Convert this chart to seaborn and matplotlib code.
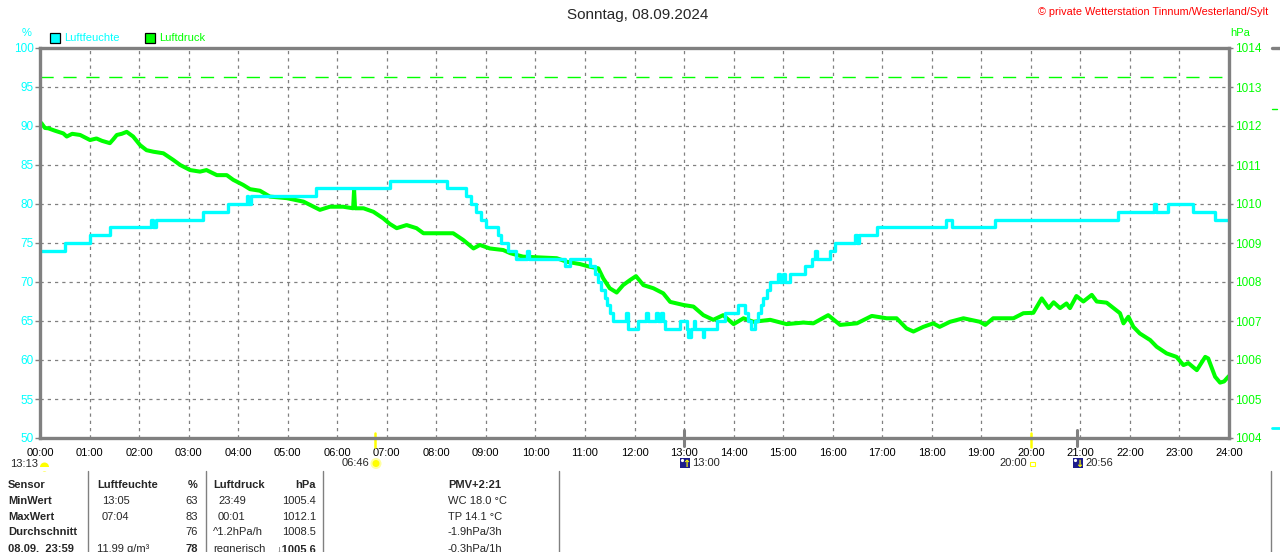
import pandas as pd
import seaborn as sns
import matplotlib.pyplot as plt
import matplotlib.transforms as mtransforms
from matplotlib.patches import Rectangle, Circle
from matplotlib.lines import Line2D

# --- data ---
hum_hours = [0.00, 0.50, 1.00, 1.41, 2.25, 2.28, 2.35, 3.30, 3.80, 4.18, 4.20, 4.25,
             5.58, 7.06, 8.21, 8.60, 8.70, 8.80, 8.90, 9.00, 9.25, 9.30, 9.45, 9.60,
             9.83, 9.88, 10.60, 10.70, 11.10, 11.20, 11.27, 11.33, 11.40, 11.45, 11.50,
             11.57, 11.83, 11.86, 12.07, 12.24, 12.27, 12.44, 12.47, 12.54, 12.57, 12.62,
             12.92, 13.05, 13.08, 13.14, 13.20, 13.23, 13.38, 13.41, 13.66, 13.82, 14.09,
             14.23, 14.30, 14.36, 14.43, 14.50, 14.55, 14.60, 14.68, 14.74, 14.90, 14.93,
             15.00, 15.03, 15.14, 15.44, 15.58, 15.64, 15.68, 15.94, 16.05, 16.45, 16.49,
             16.53, 16.90, 18.28, 18.40, 19.28, 21.76, 22.48, 22.52, 22.77, 23.27, 23.72,
             24.00]
hum_values = [74, 75, 76, 77, 78, 77, 78, 79, 80, 81, 80, 81,
              82, 83, 82, 81, 80, 79, 78, 77, 76, 75, 74, 73,
              74, 73, 72, 73, 72, 71, 70, 69, 68, 67, 66,
              65, 66, 64, 65, 66, 65, 66, 65, 66, 65, 64,
              65, 64, 63, 64, 65, 64, 63, 64, 65, 66, 67,
              66, 65, 64, 65, 66, 67, 68, 69, 70, 71, 70,
              71, 70, 71, 72, 73, 74, 73, 74, 75, 76, 75,
              76, 77, 78, 77, 78, 79, 80, 79, 80, 79, 78,
              78]

press_hours = [0.00, 0.03, 0.10, 0.17, 0.30, 0.47, 0.54, 0.65, 0.81, 0.92, 1.01, 1.14,
               1.25, 1.41, 1.48, 1.55, 1.65, 1.75, 1.88, 2.02, 2.15, 2.29, 2.49, 2.69,
               2.83, 3.03, 3.23, 3.36, 3.57, 3.77, 3.90, 4.10, 4.24, 4.44, 4.64, 4.98,
               5.32, 5.65, 5.85, 6.12, 6.32, 6.34, 6.36, 6.53, 6.73, 6.93, 7.06, 7.20,
               7.40, 7.60, 7.74, 8.07, 8.34, 8.54, 8.75, 8.88, 9.08, 9.35, 9.49, 9.75,
               10.09, 10.43, 10.63, 10.90, 11.10, 11.27, 11.37, 11.50, 11.64, 11.77, 11.91,
               12.03, 12.18, 12.38, 12.58, 12.72, 12.99, 13.19, 13.39, 13.59, 13.79, 14.00,
               14.20, 14.40, 14.74, 15.07, 15.41, 15.61, 15.91, 16.15, 16.49, 16.79, 17.09,
               17.29, 17.49, 17.63, 17.83, 18.03, 18.16, 18.37, 18.64, 18.97, 19.08, 19.24,
               19.51, 19.65, 19.85, 20.05, 20.22, 20.36, 20.46, 20.59, 20.72, 20.79, 20.92,
               21.06, 21.23, 21.33, 21.53, 21.67, 21.80, 21.87, 21.97, 22.07, 22.20, 22.41,
               22.54, 22.74, 22.94, 23.08, 23.18, 23.35, 23.52, 23.58, 23.72, 23.82, 23.90,
               24.00]
press_values = [1012.10, 1012.07, 1011.95, 1011.94, 1011.88, 1011.81, 1011.73, 1011.80,
                1011.77, 1011.70, 1011.64, 1011.68, 1011.62, 1011.56, 1011.66, 1011.77,
                1011.80, 1011.85, 1011.73, 1011.51, 1011.38, 1011.34, 1011.30, 1011.13,
                1011.00, 1010.87, 1010.83, 1010.87, 1010.74, 1010.74, 1010.62, 1010.49,
                1010.38, 1010.34, 1010.19, 1010.15, 1010.06, 1009.85, 1009.93, 1009.93,
                1009.89, 1010.36, 1009.89, 1009.89, 1009.80, 1009.63, 1009.49, 1009.38,
                1009.46, 1009.38, 1009.25, 1009.25, 1009.25, 1009.08, 1008.86, 1008.95,
                1008.86, 1008.82, 1008.74, 1008.65, 1008.63, 1008.61, 1008.52, 1008.46,
                1008.39, 1008.35, 1008.09, 1007.84, 1007.73, 1007.92, 1008.05, 1008.15,
                1007.92, 1007.84, 1007.71, 1007.49, 1007.41, 1007.37, 1007.15, 1007.03,
                1007.15, 1006.92, 1007.07, 1006.98, 1007.03, 1006.92, 1006.96, 1006.94,
                1007.15, 1006.90, 1006.94, 1007.13, 1007.07, 1007.07, 1006.81, 1006.73,
                1006.85, 1006.94, 1006.85, 1006.98, 1007.07, 1006.98, 1006.90, 1007.07,
                1007.07, 1007.07, 1007.20, 1007.21, 1007.58, 1007.33, 1007.48, 1007.33,
                1007.45, 1007.33, 1007.64, 1007.50, 1007.67, 1007.50, 1007.47, 1007.33,
                1007.20, 1006.94, 1007.11, 1006.85, 1006.68, 1006.51, 1006.34, 1006.17,
                1006.08, 1005.87, 1005.92, 1005.74, 1006.08, 1006.04, 1005.57, 1005.42,
                1005.45, 1005.59]

hour_labels = [f"{h:02d}:00" for h in range(25)]
hum_ticks = list(range(50, 101, 5))
press_ticks = list(range(1004, 1015))
std_pressure = 1013.25

table_rows = [
    ["Sensor", "Luftfeuchte", "%", "Luftdruck", "hPa", "PMV+2:21"],
    ["MinWert", "13:05", "63", "23:49", "1005.4", "WC 18.0 °C"],
    ["MaxWert", "07:04", "83", "00:01", "1012.1", "TP 14.1 °C"],
    ["Durchschnitt", "", "76", "^1.2hPa/h", "1008.5", "-1.9hPa/3h"],
    ["08.09.  23:59", "11.99 g/m³", "78", "regnerisch", "\u21931005.6", "-0.3hPa/1h"],
]

CYAN = "#00FFFF"
GREEN = "#00FF00"
GRAY = "#808080"

sns.set_style("white")
plt.rcParams["font.family"] = ["Liberation Sans", "DejaVu Sans"]

W, H = 1280, 552
fig = plt.figure(figsize=(12.8, 5.52), dpi=100)
# pixel transform, origin top-left like the reference image
px = mtransforms.Affine2D().scale(1, -1).translate(0, H).scale(0.01) + fig.dpi_scale_trans

ax = fig.add_axes([40 / W, 1 - 438 / H, 1189 / W, 390 / H])
ax2 = ax.twinx()

df_p = pd.DataFrame({"t": press_hours, "p": press_values})
df_h = pd.DataFrame({"t": hum_hours, "h": hum_values})

ax.axhline(std_pressure, color=GREEN, lw=1.0, ls=(0, (9.5, 7)), zorder=1)
sns.lineplot(data=df_p, x="t", y="p", ax=ax, color=GREEN, lw=2.9,
             estimator=None, sort=False, zorder=3)
sns.lineplot(data=df_h, x="t", y="h", ax=ax2, color=CYAN, lw=2.4,
             estimator=None, sort=False, drawstyle="steps-post")

ax.set_xlim(0, 24)
ax.set_ylim(1004, 1014)
ax2.set_ylim(50, 100)
ax.set_xticks(range(25))
ax.set_xticklabels(hour_labels)
ax.set_yticks(press_ticks)
ax2.set_yticks(hum_ticks)
for a in (ax, ax2):
    a.set_xlabel("")
    a.set_ylabel("")

ax.grid(True, color=GRAY, ls=(0, (2.6, 3.2)), lw=0.9)
ax2.grid(False)

ax.yaxis.tick_right()
ax2.yaxis.tick_left()
ax.tick_params(axis="y", colors=GRAY, labelcolor=GREEN, length=3, width=1, pad=1,
               labelsize=8.5)
ax2.tick_params(axis="y", colors=GRAY, labelcolor=CYAN, length=3.5, width=1, pad=1,
                labelsize=8.5)
ax.tick_params(axis="x", colors=GRAY, labelcolor="black", length=2.5, width=1, pad=4.5,
               labelsize=8)

for s in ax.spines.values():
    s.set_visible(False)
for s in ax2.spines.values():
    s.set_color(GRAY)
    s.set_linewidth(2.4)

# sunrise / sunset / moon marks on the time axis
ax.axvline(6 + 46 / 60, ymin=-0.023, ymax=0.013, clip_on=False, color="#FFFF00", lw=1.8)
ax.axvline(20.0, ymin=-0.023, ymax=0.013, clip_on=False, color="#FFFF00", lw=1.8)
for t in (13.0, 20 + 56 / 60):
    ax.axvline(t, ymin=-0.02, ymax=0.02, clip_on=False, color=GRAY, lw=2.2)

# titles and labels
fig.text(638, 15, "Sonntag, 08.09.2024", transform=px, ha="center", va="center", fontsize=11)
fig.text(1268, 12, "© private Wetterstation Tinnum/Westerland/Sylt", transform=px,
         ha="right", va="center", fontsize=7.8, color="red")
fig.text(27, 33, "%", transform=px, ha="center", va="center", fontsize=8, color=CYAN)
fig.text(1230, 33, "hPa", transform=px, ha="left", va="center", fontsize=8, color=GREEN)

# legend
for x0, col, lab in [(50, CYAN, "Luftfeuchte"), (145, GREEN, "Luftdruck")]:
    fig.add_artist(Rectangle((x0, 42.5), 10, -9.5, transform=px, fc=col, ec="black", lw=0.9))
    fig.text(x0 + 14, 38, lab, transform=px, ha="left", va="center", fontsize=8, color=col)

# icons and times under the axis
fig.text(10, 464, "13:13", transform=px, ha="left", va="center", fontsize=8)
fig.add_artist(Circle((44.5, 467), 4.5, transform=px, fc="#FFFF00", ec="none"))
fig.add_artist(Rectangle((39, 467), 11, 4, transform=px, fc="white", ec="none"))
fig.text(369, 463, "06:46", transform=px, ha="right", va="center", fontsize=8)
fig.add_artist(Circle((376, 463.5), 5.5, transform=px, fc="#FFFFA0", ec="none"))
fig.add_artist(Circle((376, 463.5), 3.5, transform=px, fc="#FFFF00", ec="none"))
for x0, arrow, lab in [(680, "\u2191", "13:00"), (1073, "\u2193", "20:56")]:
    fig.add_artist(Rectangle((x0, 468), 10, -10, transform=px, fc="#1C1C8C", ec="none"))
    fig.add_artist(Circle((x0 + 2.5, 460.5), 1.6, transform=px, fc="white", ec="none"))
    fig.text(x0 + 6, 464, arrow, transform=px, ha="center", va="center", fontsize=7,
             color="#FFFF00", family=["DejaVu Sans"], fontweight="bold")
    fig.text(x0 + 12, 463.5, lab, transform=px, ha="left", va="center", fontsize=8)
fig.text(1027, 463.5, "20:00", transform=px, ha="right", va="center", fontsize=8)
fig.add_artist(Rectangle((1030, 466), 4.5, -4.5, transform=px, fc="none", ec="#FFFF00", lw=0.8))

# summary table
row_y = [485, 500.7, 516.7, 532.3, 549]
col_x = [8, 97, 198, 213, 316, 448]
col_ha = ["left", "left", "right", "left", "right", "left"]
for r, row in enumerate(table_rows):
    for c, txt in enumerate(row):
        bold = r == 0 or c == 0 or (r == 4 and c in (2, 4))
        x = col_x[c]
        if r in (1, 2) and c in (1, 3):
            x += 5
        fig.text(x, row_y[r], txt, transform=px, ha=col_ha[c], va="center",
                 fontsize=8, fontweight="bold" if bold else "normal",
                 family=["Liberation Sans", "DejaVu Sans"])
for xs in (88.3, 205.7, 323.3, 559.3, 1271):
    fig.add_artist(Line2D([xs, xs], [471, 552], transform=px, color=GRAY, lw=1))

# edge of the neighbouring chart at the right border
fig.add_artist(Line2D([1272, 1280], [48, 48], transform=px, color=GRAY, lw=2.4))
fig.add_artist(Line2D([1272, 1277], [109, 109], transform=px, color=GREEN, lw=1))
fig.add_artist(Line2D([1272, 1280], [428, 428], transform=px, color=CYAN, lw=2))

fig.savefig("out.png", dpi=100)
